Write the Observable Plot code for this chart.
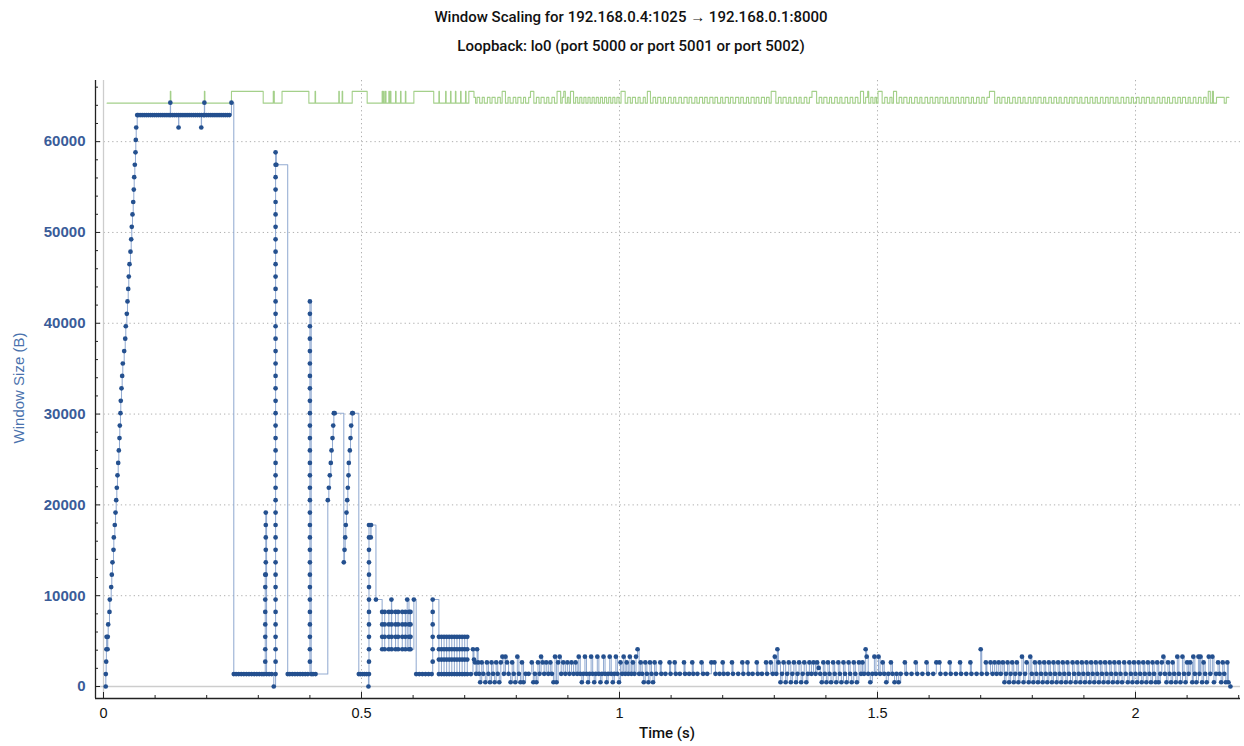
<!DOCTYPE html>
<html>
<head>
<meta charset="utf-8">
<script src="https://cdn.jsdelivr.net/npm/d3@7"></script>
<script src="https://cdn.jsdelivr.net/npm/@observablehq/plot@0.6"></script>
<style>
  html, body { margin: 0; padding: 0; background: #fff; }
  body { width: 1244px; height: 746px; position: relative; overflow: hidden; font-family: "Liberation Sans", Arial, sans-serif; }
  .ttl { position: absolute; left: 0; width: 1262px; text-align: center; color: #111; font-family: Roboto, "Liberation Sans", sans-serif; font-size: 15px; font-weight: 500; white-space: nowrap; }
  #t1 { top: 8px; }
  #t2 { top: 37px; }
  #chart { position: absolute; left: 0; top: 60px; }
  #ylab { position: absolute; left: 18px; top: 388px; transform: translate(-50%, -50%) rotate(-90deg); color: #4a72ad; font-size: 15px; white-space: nowrap; }
  #xlab { position: absolute; left: 667px; top: 733px; transform: translate(-50%, -50%); color: #111; font-family: Roboto, "Liberation Sans", sans-serif; font-size: 15px; font-weight: 500; white-space: nowrap; }
</style>
</head>
<body>
<div class="ttl" id="t1">Window Scaling for 192.168.0.4:1025 → 192.168.0.1:8000</div>
<div class="ttl" id="t2">Loopback: lo0 (port 5000 or port 5001 or port 5002)</div>
<div id="chart"></div>
<div id="ylab">Window Size (B)</div>
<div id="xlab">Time (s)</div>
<script>
// ---- tick labels ----
const xMajor = [0, 0.5, 1, 1.5, 2];
const xMinor = [0.1,0.2,0.3,0.4,0.6,0.7,0.8,0.9,1.1,1.2,1.3,1.4,1.6,1.7,1.8,1.9,2.1,2.2];
const yMajor = [0,10000,20000,30000,40000,50000,60000];
const yMinor = [2000,4000,6000,8000,12000,14000,16000,18000,22000,24000,26000,28000,32000,34000,36000,38000,42000,44000,46000,48000,52000,54000,56000,58000,62000,64000,66000];

// ---- bytes in flight: [time ms, bytes] ----
const slowStart = [[4.3,0],[4.5,1368],[5.2,2736],[5.6,4104],[6.0,5472],[7.9,4104],[8.3,5472],[9.1,6840],[11.6,8208],[12.2,9576],[14.9,10944],[16.1,12312],[17.4,13680],[19.4,15048],[20.0,16416],[21.9,17784],[23.3,19152],[24.6,20520],[25.8,21888],[27.1,23256],[28.5,24624],[29.7,25992],[31.0,27360],[31.6,28728],[32.9,30096],[33.5,31464],[34.9,32832],[36.2,34200],[37.4,35568],[40.1,36936],[42.1,38304],[43.2,39672],[45.2,41040],[46.5,42408],[47.9,43776],[49.0,45144],[50.4,46512],[52.3,47880],[53.7,49248],[54.8,50616],[56.2,51984],[57.6,53352],[58.7,54720],[59.5,56088],[60.7,57456],[62.0,58824],[62.6,60192],[63.4,61560],[65.3,62928]];

const plateau = [[67,62928],[71,62928],[75,62928],[79,62928],[83,62928],[87,62928],[91,62928],[95,62928],[99,62928],[103,62928],[107,62928],[111,62928],[115,62928],[119,62928],[123,62928],[127,62928],[129.5,64296],[130,62928],[134,62928],[138,62928],[142,62928],[145.5,61560],[146,62928],[150,62928],[154,62928],[158,62928],[162,62928],[166,62928],[170,62928],[174,62928],[178,62928],[182,62928],[186,62928],[189.5,61560],[190,62928],[194,62928],[195.5,64296],[196,62928],[200,62928],[204,62928],[208,62928],[212,62928],[216,62928],[220,62928],[224,62928],[228,62928],[232,62928],[236,62928],[240,62928],[244,62928],[248,64296]];

const burst = [
[252.5,1368],[257,1368],[262,1368],[267,1368],[272,1368],[277,1368],[282,1368],[287,1368],[292,1368],[297,1368],[302,1368],[307,1368],[311,1368],
[313.5,2736],[313.5,4104],[313.5,5472],[313.5,6840],[313.5,8208],[313.5,9576],[313.5,10944],[313.5,12312],[314.5,12312],[314.5,13680],[314.5,15048],[314.5,16416],[314.5,17784],[314.5,19152],
[316,1368],[321,1368],[326,1368],[330,0],
[333.5,1368],[333.5,2736],[333.5,4104],[333.5,5472],[333.5,6840],[333.5,8208],[333.5,9576],[333.5,10944],[333.5,12312],[333.5,13680],[333.5,15048],[333.5,16416],[333.5,17784],[333.5,19152],[333.5,20520],[333.5,21888],[333.5,23256],[333.5,24624],[333.5,25992],[333.5,27360],[333.5,28728],[333.5,30096],[333.5,31464],[333.5,32832],[333.5,34200],[333.5,35568],[333.5,36936],[333.5,38304],[333.5,39672],[333.5,41040],[333.5,42408],[333.5,43776],[333.5,45144],[333.5,46512],[333.5,47880],[333.5,49248],[333.5,50616],[333.5,51984],[333.5,53352],[333.5,54720],[333.5,56088],[333.5,57456],[333.5,58824],[335,57456],
[357,1368],[361,1368],[366,1368],[371,1368],[376,1368],[381,1368],[386,1368],[391,1368],[396,1368],
[400,2736],[400,4104],[400,5472],[400,6840],[400,8208],[400,9576],[400,10944],[400,12312],[400,13680],[400,15048],[400,16416],[400,17784],[400,19152],[400,20520],[400,21888],[400,23256],[400,24624],[400,25992],[400,27360],[400,28728],[400,30096],[400,31464],[400,32832],[400,34200],[400,35568],[400,36936],[400,38304],[400,39672],[400,41040],[400,42408],
[402.5,1368],[406,1368],[411,1368],
[434.7,20520],[436.7,21888],[438.6,23256],[440.5,24624],[441.9,25992],[443.8,27360],[445.2,28728],[446.4,30096],[448,30096],
[465.7,13680],[467.1,15048],[468.4,16416],[469.6,17784],[470.9,19152],[472.3,20520],[473.5,21888],[474.8,23256],[475.4,24624],[477.4,25992],[478.7,27360],[480,28728],[482,30096],[483.2,30096],
[494.8,1368],[498,1368],[502,1368],[506,1368],[510,1368],[513.5,0],
[514.5,1368],[514.5,2736],[514.5,4104],[514.5,5472],[514.5,6840],[514.5,8208],[514.5,9576],[514.5,10944],[514.5,12312],[514.5,13680],[514.5,15048],[514.5,16416],[514.5,17784],[518,16416],[518.5,17784]
];

const recovery = [
[528,9576],
[540,8208],[540,6840],[540,5472],[540,4104],
[545,8208],[545,6840],[545,5472],[545,4104],
[553,8208],[553,6840],[553,5472],[553,4104],
[558,9576],[558.5,8208],[558.5,6840],[558.5,5472],[558.5,4104],
[566,8208],[566,6840],[566,5472],[566,4104],
[571,8208],[571,6840],[571,5472],[571,4104],
[579,8208],[579,6840],[579,5472],[579,4104],
[585,8208],[585,6840],[585,5472],[585,4104],
[588.6,9576],[592,8208],[592,6840],[592,5472],[592,4104],
[595,8208],[595,6840],[595,5472],[595,4104],
[601.5,9576],[606,1368],[612,1368],[618,1368],[624,1368],[630,1368],[636,1368],
[638,2736],[638,4104],[638,5472],[638,6840],[638,8208],[638,9576],
[650,5472],[650,4104],[650,2970],[650,1368],
[655,5472],[655,4104],[655,2970],[655,1368],
[660,5472],[660,4104],[660,2970],[660,1368],
[665,5472],[665,4104],[665,2970],[665,1368],
[670,5472],[670,4104],[670,2970],[670,1368],
[675,5472],[675,4104],[675,2970],[675,1368],
[680,5472],[680,4104],[680,2970],[680,1368],
[685,5472],[685,4104],[685,2970],[685,1368],
[690,5472],[690,4104],[690,2970],[690,1368],
[695,5472],[695,4104],[695,2970],[695,1368],
[700,5472],[700,4104],[700,2970],[700,1368],
[705,5472],[705,4104],[705,2970],[705,1368],
[712,1368],[716,4104],[718,2970],[720,2650],[722,1400],[724,4104],[726,2650],[728,1400],[730,470]
];

const steady = [
[733,2650],[736,1400],[740,470],[743,2650],[746,1400],[749,470],[752,2650],[755,1400],[758,470],[761,2650],[764,1400],[767,470],[770,2650],[773,3290],[776,1400],[779,3290],[782,2650],[785,1400],[789,470],[792,2650],[795,1400],[798,470],[802,3290],[805,1400],[808,470],[811,2650],[814,470],[818,1400],[824,1400],[830,2650],[833,470],[836,1400],[839,470],[842,2650],[845,1400],[848,3290],[851,2650],[854,1400],[858,2650],[862,1400],[866,2650],[869,1400],[872,470],[875,3290],[878,470],[881,2650],[884,3290],[887,1400],
[891,2650],[895,1400],[899,2650],[903,1400],[907,2650],[911,1400],[915,2650],[918,1400],
[921,3290],[924,1400],[927,470],[930,1400],[933,3290],[936,1400],[939,470],[942,1400],[945,3290],[948,1400],[951,470],[954,1400],[957,3290],[960,1400],[963,470],[966,1400],[969,3290],[972,1400],[975,470],[978,1400],[981,3290],[984,1400],[987,470],[990,1400],[993,3290],[996,1400],[999,470],
[1002,2650],[1005,1400],[1008,3290],[1011,1400],[1014,2650],[1017,1400],[1020,3290],[1023,1400],[1026,2650],[1029,1400],[1032,3290],[1035,4104],[1038,1400],[1041,2650],
[1044,1400],[1047,470],[1050,2650],[1053,1400],[1056,470],[1059,2650],[1062,1400],[1065,470],[1068,2650],
[1071,1400],[1079,2650],[1081,1400],[1089,1400],[1097,2650],[1099,1400],[1107,2650],[1109,1400],[1117,1400],[1125,2650],[1127,1400],[1135,1400],[1141,2650],[1143,1400],[1151,1400],[1159,2650],[1162,1400],[1170,1400],[1178,2650],[1184,2650],[1186,1400],[1194,1400],[1200,2650],[1202,1400],[1210,1400],[1218,2650],[1220,1400],[1230,1400],[1238,2650],[1240,1400],[1248,2650],[1250,1400],[1258,1400],[1266,2650],[1268,1400],[1276,1400],[1284,2650],[1286,1400],
[1293,2650],[1297,1400],[1301,3290],[1304,1400],[1306,4104],[1308,2650],[1312,470],[1315,1400],[1318,2650],[1322,470],[1325,1400],[1328,2650],[1332,470],[1335,1400],[1338,2650],[1342,470],[1345,1400],[1348,2650],[1352,470],[1355,1400],[1358,2650],[1362,470],[1365,1400],[1368,2650],[1372,1400],[1376,2650],[1380,1400],
[1383,2650],[1386,2050],[1389,1400],[1392,470],[1395,2650],[1398,1400],[1401,470],[1404,2650],[1407,1400],[1410,470],[1414,2650],[1417,1400],[1420,470],[1424,2650],[1427,1400],[1430,470],[1434,2650],[1437,1400],[1440,470],[1444,2650],[1447,1400],[1450,470],[1454,2650],[1457,1400],[1460,470],[1464,2650],[1468,1400],
[1471,2650],[1474,1400],[1477,4104],[1479,3290],[1482,1400],[1486,470],[1490,1400],[1494,3290],[1497,1400],[1502,3290],[1505,1400],
[1510,2650],[1513,1400],[1517,470],[1521,1400],[1526,2650],[1529,1400],[1533,470],[1537,1400],[1541,470],[1545,1400],[1553,2650],[1556,1400],[1566,1400],[1574,2650],[1577,1400],[1587,1400],[1595,2650],[1598,1400],[1608,1400],[1614,2650],[1620,2650],[1622,1400],[1632,1400],[1640,2650],[1642,1400],[1652,1400],[1660,2650],[1662,1400],[1672,1400],[1680,2650],[1682,1400],[1692,1400],[1700,4104],[1702,1400],[1710,2650],[1712,1400],
[1719,2650],[1723,1400],[1727,2650],[1731,1400],[1735,2650],[1739,1400],[1743,2650],
[1746,470],[1749,1400],[1752,2650],[1755,470],[1758,1400],[1761,2650],[1764,470],[1767,1400],[1770,2650],[1773,470],[1776,1400],[1780,3290],[1783,470],[1786,1400],[1789,2650],
[1793,470],[1796,3290],[1799,1400],[1802,470],[1805,2650],[1808,1400],[1811,470],[1814,2650],[1817,1400],[1820,470],[1823,2650],[1826,1400],[1829,470],[1832,2650],[1835,1400],[1838,470],[1841,2650],[1844,1400],[1847,470],[1850,2650],[1853,1400],[1856,470],[1859,2650],[1862,1400],[1865,470],[1868,2650],[1871,1400],[1874,470],[1878,2650],[1881,1400],
[1884,470],[1887,2650],[1890,1400],[1893,470],[1896,2650],[1899,1400],[1902,470],[1905,2650],[1908,1400],[1911,470],[1914,2650],[1917,1400],[1920,470],[1923,2650],[1926,1400],[1929,470],[1932,2650],[1935,1400],[1938,470],[1941,2650],[1944,1400],[1947,470],[1950,2650],[1953,1400],[1956,470],[1959,2650],[1962,1400],[1965,470],[1968,2650],[1971,1400],[1974,470],[1978,2650],[1981,1400],
[1985,470],[1988,2650],[1991,1400],[1994,470],[1997,2650],[2000,1400],[2003,470],[2006,2650],[2009,1400],[2012,470],[2015,2650],[2018,1400],[2021,470],[2024,2650],[2027,1400],[2030,470],[2033,2650],[2036,1400],[2039,470],[2042,2650],
[2045,470],[2048,1400],[2051,2650],[2054,3290],[2057,1400],[2060,470],[2063,2650],[2066,1400],[2069,470],[2072,2650],[2075,1400],[2078,470],[2081,3290],[2084,1400],[2087,470],[2091,3290],[2094,1400],[2097,470],[2100,2650],[2103,1400],[2106,2650],
[2110,470],[2112,3290],[2115,1400],[2118,470],[2122,3290],[2124,1400],[2126,3290],[2129,470],[2132,2650],[2135,1400],[2138,470],[2142,3290],[2145,1400],
[2149,3290],[2152,470],[2156,1400],[2160,2650],[2163,1400],[2166,470],[2169,2650],[2172,1400],[2175,470],[2178,2650],[2180,470],[2184,0]
];

// ---- receive window: [time ms, bytes] ----
const rwndEarly = [[7,64240],[129.5,65535],[130.5,64240],[195.5,65535],[196.5,64240],[248,65535],[309.5,64240],[329,65535],[331,64240],[346,65535],[398,64240],[410,65535],[411,64240],[456,65535],[457,64240],[462.5,65535],[463.5,64240],[482,65535],[511,64240],[540,65535],[541,64240],[543,65535],[544,64240],[546.5,65535],[547.5,64240],[553,65535],[554,64240],[556,65535],[557,64240],[566,65535],[567,64240],[575.6,65535],[576.6,64240],[585,65535],[586,64240],[601.5,65535],[640,64240],[650,65535],[651,64240],[663,65535],[664,64240],[672.5,65535],[673.5,64240],[682,65535],[683,64240],[692,65535],[693,64240],[701.6,65535],[702.6,64240],[708,65535],[718,64870],[721,64240]];

const rwndSteady = [
[724,64870],[729,64240],[734,64870],[738,64240],[744,64870],[749,64240],[753,64870],[759,64240],[764,64870],[769,64240],[772.6,65535],[779,64240],
[784,64870],[788,64240],[794,64870],[799,64240],[803,64870],[809,64240],[814,64870],[818,64240],[824,64870],[827.5,65535],[834,64240],
[839,64870],[844,64240],[848,64870],[854,64240],[859,64870],[863,64240],[869,64870],[874,64240],[879,65535],[886,64240],[889,64870],[892,65535],[895,64240],[899,64870],[902,64240],[905,65535],[911,64240],
[915,64870],[919,64240],[923,64870],[927,64240],[931,64870],[935,64240],[939,64870],[943,64240],[947,64870],[951,64240],[955,64870],[959,64240],[963,64870],[967,64240],[971,64870],[975,64240],[979,64870],[983,64240],[987,64870],[991,64240],[995,64870],[999,64240],[1003,65535],[1011,64240],
[1016,64870],[1021,64240],[1025,64870],[1031,64240],[1036,64870],[1040,64240],[1046,64870],[1050,64240],[1054,65535],[1060,64240],
[1065,64870],[1070,64240],[1074,64870],[1080,64240],[1085,64870],[1089,64240],[1095,64870],[1100,64240],[1105,64870],[1109,64240],[1115,64870],[1120,64240],[1125,64870],[1131,64240],[1135,64870],[1140,64240],[1146,64870],[1150,64240],[1155,64870],[1161,64240],[1165,64870],[1170,64240],[1175,64870],[1181,64240],[1185,64870],[1190,64240],[1196,64870],[1200,64240],[1205,64870],[1211,64240],[1215,64870],[1220,64240],[1225,64870],[1231,64240],[1235,64870],[1240,64240],[1246,64870],[1250,64240],[1255,64870],[1261,64240],[1265,64870],[1270,64240],[1275,64870],[1281,64240],[1285,64870],[1290,64240],[1294,65535],[1303,64240],
[1308,64870],[1313,64240],[1317,64870],[1323,64240],[1328,64870],[1332,64240],[1338,64870],[1343,64240],[1348,64870],[1352,64240],[1358,64870],[1363,64240],[1368,64870],[1373,65535],[1382,64240],
[1387,64870],[1392,64240],[1396,64870],[1402,64240],[1407,64870],[1411,64240],[1417,64870],[1422,64240],[1427,64870],[1431,64240],[1437,64870],[1442,64240],[1447,64870],[1452,64240],[1457,64870],[1462,64240],[1467,65535],[1473,64240],[1477,64870],[1481,65535],[1483,64240],[1487,64870],[1491,64240],[1495,64870],[1498,64240],[1501,65535],[1509,64240],[1514,64870],[1519,64240],[1524,64870],[1528,64240],[1531,65535],[1537,64240],
[1542,64870],[1547,64240],[1551,64870],[1557,64240],[1562,64870],[1566,64240],[1572,64870],[1577,64240],[1582,64870],[1586,64240],[1592,64870],[1597,64240],[1602,64870],[1607,64240],[1612,64870],[1617,64240],[1621,64870],[1627,64240],[1632,64870],[1636,64240],[1642,64870],[1647,64240],[1652,64870],[1657,64240],[1662,64870],[1667,64240],[1671,64870],[1677,64240],[1682,64870],[1686,64240],[1692,64870],[1697,64240],[1702,64870],[1707,64240],[1712,64870],[1717,65535],[1727,64240],
[1732,64870],[1737,64240],[1741,64870],[1747,64240],[1752,64870],[1756,64240],[1762,64870],[1767,64240],[1772,64870],[1777,64240],[1782,64870],[1786,64240],[1792,64870],[1797,64240],[1802,64870],[1807,64240],[1811,64870],[1817,64240],[1822,64870],[1826,64240],[1832,64870],[1837,64240],[1842,64870],[1847,64240],[1852,64870],[1856,64240],[1862,64870],[1867,64240],[1872,64870],[1877,64240],[1881,64870],[1887,64240],[1892,64870],[1896,64240],[1902,64870],[1907,64240],[1912,64870],[1917,64240],[1922,64870],[1926,64240],[1932,64870],[1937,64240],[1942,64870],[1947,64240],[1951,64870],[1957,64240],[1962,64870],[1966,64240],[1972,64870],[1977,64240],[1982,64870],[1987,64240],[1992,64870],[1996,64240],[2002,64870],[2007,64240],[2012,64870],[2017,64240],[2021,64870],[2027,64240],[2032,64870],[2036,64240],[2042,64870],[2047,64240],[2052,64870],[2057,64240],[2062,64870],[2066,64240],[2072,64870],[2077,64240],[2082,64870],[2087,64240],[2091,64870],[2097,64240],[2102,64870],[2106,64240],[2112,64870],[2117,64240],[2122,64870],[2127,64240],[2132,64870],[2137,64240],
[2141,65535],[2145,64240],[2149,65535],[2151,64240],[2157,64870],[2172,64240],[2176,64870],[2181,64870]
];

const blue = [...slowStart, ...plateau, ...burst, ...recovery, ...steady];
const green = [...rwndEarly, ...rwndSteady];

const xDom = [-0.0155, 2.2035];
const yDom = [-1321, 66733];
const tx = d => d[0] / 1000;
const ty = d => d[1];

const chart = Plot.plot({
  width: 1244,
  height: 686,
  marginLeft: 95,
  marginRight: 4,
  marginTop: 20,
  marginBottom: 48,
  style: { fontFamily: "'Liberation Sans', Arial, sans-serif", background: "#fff", overflow: "visible" },
  x: { domain: xDom },
  y: { domain: yDom },
  marks: [
    Plot.gridX(xMajor.filter(d => d !== 0), { stroke: "#b0b0b0", strokeOpacity: 1, strokeDasharray: "1.3,3" }),
    Plot.gridY(yMajor.filter(d => d !== 0), { stroke: "#b0b0b0", strokeOpacity: 1, strokeDasharray: "1.3,3" }),
    Plot.ruleX([0], { stroke: "#cdcdcd", strokeWidth: 1.3 }),
    Plot.ruleY([0], { stroke: "#cdcdcd", strokeWidth: 1.3 }),
    Plot.line(green, { x: tx, y: ty, curve: "step-after", stroke: "#a4d08a", strokeWidth: 1.1 }),
    Plot.line(blue, { x: tx, y: ty, curve: "step-after", stroke: "#94acd2", strokeWidth: 1.05 }),
    Plot.dot(blue, { x: tx, y: ty, r: 2.35, fill: "#24508f" }),
    Plot.ruleX([xDom[0]], { stroke: "#222", strokeWidth: 1.3 }),
    Plot.ruleY([yDom[0]], { stroke: "#222", strokeWidth: 1.3 }),
    Plot.axisY(yMajor, { tickSize: 0, tickPadding: 10, tickFormat: d => String(d), fill: "#3a5c99", fontSize: 15, fontWeight: "bold", label: null }),
    Plot.axisY(yMajor, { tickSize: -5, tickFormat: () => "", label: null, stroke: "#222" }),
    Plot.axisY(yMinor, { tickSize: -3, tickFormat: () => "", label: null, stroke: "#222" }),
    Plot.axisX(xMajor, { tickSize: 0, tickPadding: 9, tickFormat: d => String(d), fontSize: 14.5, fill: "#111", label: null }),
    Plot.axisX(xMajor, { tickSize: -6, tickFormat: () => "", label: null, stroke: "#222" }),
    Plot.axisX(xMinor, { tickSize: -3, tickFormat: () => "", label: null, stroke: "#222" })
  ]
});
document.getElementById("chart").appendChild(chart);
</script>
</body>
</html>
